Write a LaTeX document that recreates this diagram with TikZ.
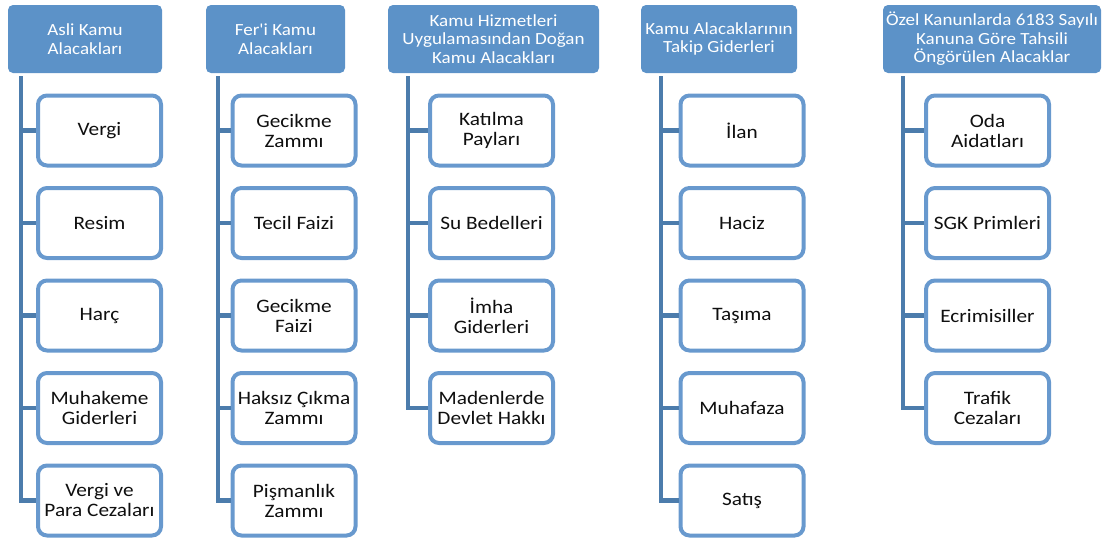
\documentclass[tikz,border=0pt]{standalone}
\usepackage{fontspec}
\setmainfont{Carlito}[FakeStretch=1.12, Ligatures=TeXOff]
\definecolor{headblue}{RGB}{92,146,200}
\definecolor{itemblue}{RGB}{104,153,206}
\definecolor{lineblue}{RGB}{76,124,172}
\definecolor{textdark}{RGB}{15,15,15}
\begin{document}
\begin{tikzpicture}[x=1pt,y=-1pt,
  head/.style={fill=headblue, rounded corners=5pt, text=white, align=center,
    font=\fontsize{17}{18.5}\selectfont, inner sep=0pt, minimum height=68pt},
  item/.style={draw=itemblue, line width=4pt, fill=white, rounded corners=9pt,
    minimum width=123pt, minimum height=70pt, align=center, inner sep=0pt,
    text=textdark, font=\fontsize{19}{20}\selectfont},
  link/.style={draw=lineblue, line width=4.5pt}]
\useasboundingbox (0,0) rectangle (1107,538);
% headers
\node[head, minimum width=154pt] (h1) at (85,39) {Asli Kamu\\Alacakları};
\node[head, minimum width=139pt] (h2) at (275.5,39) {Fer'i Kamu\\Alacakları};
\node[head, minimum width=211pt] (h3) at (493.5,39) {Kamu Hizmetleri\\Uygulamasından Doğan\\Kamu Alacakları};
\node[head, minimum width=156pt] (h4) at (719,39) {Kamu Alacaklarının\\Takip Giderleri};
\node[head, minimum width=218pt] (h5) at (992,39) {Özel Kanunlarda 6183 Sayılı\\Kanuna Göre Tahsili\\Öngörülen Alacaklar};
% column 1
\node[item] (a1) at (99.5,130.5) {Vergi};
\node[item] (a2) at (99.5,223) {Resim};
\node[item] (a3) at (99.5,315.5) {Harç};
\node[item] (a4) at (99.5,408) {Muhakeme\\Giderleri};
\node[item] (a5) at (99.5,500.5) {Vergi ve\\Para Cezaları};
% column 2
\node[item] (b1) at (294,130.5) {Gecikme\\Zammı};
\node[item] (b2) at (294,223) {Tecil Faizi};
\node[item] (b3) at (294,315.5) {Gecikme\\Faizi};
\node[item] (b4) at (294,408) {Haksız Çıkma\\Zammı};
\node[item] (b5) at (294,500.5) {Pişmanlık\\Zammı};
% column 3
\node[item] (c1) at (491.5,130.5) {Katılma\\Payları};
\node[item] (c2) at (491.5,223) {Su Bedelleri};
\node[item] (c3) at (491.5,315.5) {İmha\\Giderleri};
\node[item] (c4) at (491.5,408) {Madenlerde\\Devlet Hakkı};
% column 4
\node[item] (d1) at (742,130.5) {İlan};
\node[item] (d2) at (742,223) {Haciz};
\node[item] (d3) at (742,315.5) {Taşıma};
\node[item] (d4) at (742,408) {Muhafaza};
\node[item] (d5) at (742,500.5) {Satış};
% column 5
\node[item] (e1) at (987.5,130.5) {Oda\\Aidatları};
\node[item] (e2) at (987.5,223) {SGK Primleri};
\node[item] (e3) at (987.5,315.5) {Ecrimisiller};
\node[item] (e4) at (987.5,408) {Trafik\\Cezaları};
% trunk tops
\coordinate (t1) at (21,76);
\coordinate (t2) at (218,76);
\coordinate (t3) at (408,76);
\coordinate (t4) at (661,76);
\coordinate (t5) at (903,76);
% connectors
\draw[link] (t1) |- (a5.west);
\foreach \n in {a1,a2,a3,a4} \draw[link] (t1 |- \n.west) -- (\n.west);
\draw[link] (t2) |- (b5.west);
\foreach \n in {b1,b2,b3,b4} \draw[link] (t2 |- \n.west) -- (\n.west);
\draw[link] (t3) |- (c4.west);
\foreach \n in {c1,c2,c3} \draw[link] (t3 |- \n.west) -- (\n.west);
\draw[link] (t4) |- (d5.west);
\foreach \n in {d1,d2,d3,d4} \draw[link] (t4 |- \n.west) -- (\n.west);
\draw[link] (t5) |- (e4.west);
\foreach \n in {e1,e2,e3} \draw[link] (t5 |- \n.west) -- (\n.west);
\end{tikzpicture}
\end{document}
